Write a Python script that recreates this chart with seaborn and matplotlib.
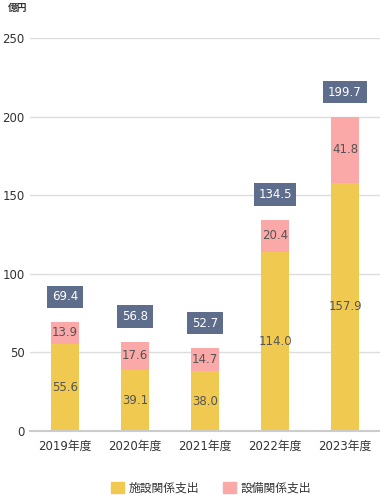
import matplotlib
matplotlib.use("Agg")
import matplotlib.pyplot as plt
import pandas as pd
import seaborn as sns
from matplotlib.patches import Patch

# data
years = ["2019年度", "2020年度", "2021年度", "2022年度", "2023年度"]
facility = [55.6, 39.1, 38.0, 114.0, 157.9]
equipment = [13.9, 17.6, 14.7, 20.4, 41.8]
totals = [69.4, 56.8, 52.7, 134.5, 199.7]
series_names = ["施設関係支出", "設備関係支出"]

c_fac = "#f0c951"
c_eq = "#fba8a8"
c_box = "#5f6d8c"

sns.set_theme(style="white")
plt.rcParams["font.family"] = ["DejaVu Sans", "Noto Sans CJK JP"]

df = pd.DataFrame({"year": years, "facility": facility, "equipment": equipment})
df["top"] = df["facility"] + df["equipment"]

fig = plt.figure(figsize=(3.8, 4.95), dpi=100)
ax = fig.add_axes([30 / 380, 1 - 431 / 495, 350 / 380, 393 / 495])

sns.barplot(data=df, x="year", y="top", color=c_eq, width=0.4, ax=ax,
            saturation=1, edgecolor="none")
sns.barplot(data=df, x="year", y="facility", color=c_fac, width=0.4, ax=ax,
            saturation=1, edgecolor="none")

ax.set_ylim(0, 250)
ax.set_xlim(-0.5, 4.5)
ax.set_yticks([0, 50, 100, 150, 200, 250])
for y in [50, 100, 150, 200, 250]:
    ax.axhline(y, color="#dddddd", lw=1, zorder=0)
ax.set_axisbelow(True)
for s in ["top", "right", "left"]:
    ax.spines[s].set_visible(False)
ax.spines["bottom"].set_color("#cccccc")
ax.spines["bottom"].set_linewidth(1.5)
ax.set_xlabel("")
ax.set_ylabel("")
ax.tick_params(axis="y", length=0, labelsize=8.5, colors="#333333", pad=4)
ax.tick_params(axis="x", length=0, labelsize=8.5, colors="#333333", pad=6)

for i in range(len(years)):
    ax.text(i, facility[i] / 2, f"{facility[i]:.1f}", ha="center", va="center",
            fontsize=8.5, color="#555555")
    ax.text(i, facility[i] + equipment[i] / 2, f"{equipment[i]:.1f}",
            ha="center", va="center", fontsize=8.5, color="#555555")
    ax.annotate(f"{totals[i]:.1f}", (i, totals[i]), xytext=(0, 18),
                textcoords="offset points", ha="center", va="center",
                fontsize=8.5, color="white",
                bbox=dict(boxstyle="square,pad=0.4", fc=c_box, ec="none"))

fig.text(8 / 380, 1 - 8 / 495, "億円", fontsize=7, color="#333333",
         ha="left", va="center", fontweight="bold")

handles = [Patch(color=c_fac), Patch(color=c_eq)]
fig.legend(handles, series_names, loc="center", bbox_to_anchor=(0.555, 1 - 488 / 495),
           ncol=2, frameon=False, fontsize=8.5, handlelength=1.1, handleheight=1.1,
           columnspacing=2.0, handletextpad=0.4, labelcolor="#333333")

fig.savefig("out.png", dpi=100)
